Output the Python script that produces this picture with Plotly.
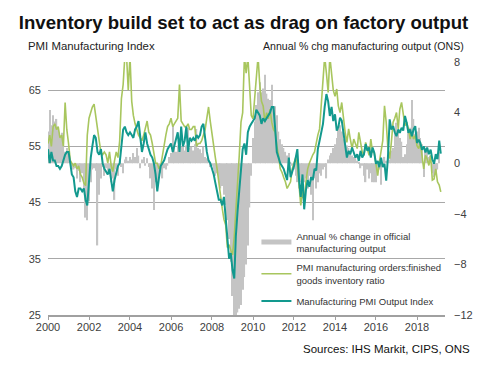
import plotly.graph_objects as go

# ---- data (monthly, Jan 2000 onward) ----
years = list(range(2000, 2020))
tick_years = [2000, 2002, 2004, 2006, 2008, 2010, 2012, 2014, 2016, 2018]

pmi_output = [
    54.5, 52, 54, 52.5, 52.5, 51.5, 51.5, 51, 51.5, 52.5, 53.5, 54,       # 2000
    54, 52, 50, 49.5, 47, 46, 47.5, 47.5, 47, 47.5, 45.5, 44.5,           # 2001
    49.5, 53, 55, 57, 56.5, 54, 53.5, 54.5, 52, 51, 50.5, 50,             # 2002
    51, 49, 47, 49, 50.5, 51.5, 52, 55.5, 58, 58.5, 57.5, 57,             # 2003
    57.5, 57, 56.5, 58, 58.5, 59.5, 57, 54, 55.5, 57.5, 55.5, 54.5,       # 2004
    53.5, 53, 52, 50, 47, 49.5, 51.5, 52, 52.5, 53.5, 54.5, 55,           # 2005
    55.5, 54, 55, 56.5, 57.5, 54, 58.5, 55, 56, 58.5, 54, 56.5,           # 2006
    56, 56.5, 56, 57, 56.5, 57, 58.5, 59, 56, 54, 52.5, 52,               # 2007
    51, 50, 48.5, 47, 45.5, 45.5, 44.5, 46, 42.5, 40, 35, 36,             # 2008
    33, 31.5, 39, 43.5, 47, 51, 54.5, 55.5, 53.5, 57.5, 58.5, 59,         # 2009
    59.5, 60, 61.5, 61, 60.5, 59, 60, 59.5, 60, 60.5, 61, 62,             # 2010
    62, 58, 54, 53, 52, 51.5, 51, 50, 49, 53, 49.5, 50.5,                 # 2011
    51.5, 53, 54.5, 49, 46, 50, 43.8, 47.2, 49, 47.8, 49.5, 49,           # 2012
    51, 50.7, 54.5, 56, 57.8, 59, 62, 64.3, 63, 60.4, 62, 59.5,           # 2013
    60.7, 57.8, 58.4, 60.1, 59.6, 57.2, 54.8, 53, 54.2, 53.6, 54.8, 54,   # 2014
    53, 53.6, 52.4, 54.2, 53, 53.6, 55.4, 54.2, 54.8, 53, 54.8, 53.9,     # 2015
    51.9, 52.4, 51.3, 53, 51.3, 51.9, 48.9, 53, 59.8, 58, 58.6, 57.5,     # 2016
    56.8, 58, 57.4, 58.3, 57.8, 60.4, 59.2, 57.4, 58, 56.8, 58, 58.6,     # 2017
    55.6, 56.2, 55.6, 54.4, 55, 53.9, 54.8, 53.6, 54.4, 52.7, 51.9, 53.6, # 2018
    52.7, 56, 53.7,                                                       # 2019
]

orders_inventory = [
    55.5, 57, 55, 58.5, 59, 58, 58.5, 56.5, 57, 55, 62.8, 58,             # 2000
    55.5, 52.5, 52, 51.5, 52, 51, 51.5, 50, 49.5, 48.5, 48, 57,           # 2001
    60, 61, 62, 62.5, 60, 58.5, 56, 54, 53.5, 54, 53.5, 52,               # 2002
    54, 51.5, 50.5, 52.5, 54, 53, 56, 63.5, 66, 71, 71, 65,               # 2003
    71, 63, 60.5, 59, 58, 57, 56.5, 56, 57, 58.5, 59.5, 57.5,             # 2004
    57, 55.5, 54, 52, 52, 51, 51.5, 53.5, 55, 57, 58.5, 59,               # 2005
    60, 58.5, 59, 59.5, 60, 66, 59.5, 59, 58.5, 58.5, 59, 58,             # 2006
    58, 58.5, 58.5, 55, 55.5, 55.5, 56, 57, 58, 60, 62, 59.5,             # 2007
    57, 55, 53, 51, 48.5, 45.5, 44, 42, 41, 37, 37.5, 36.5,               # 2008
    35.7, 39, 43.3, 47.5, 53.4, 59.3, 61, 71, 68, 71, 66.4, 60.5,         # 2009
    59.9, 64, 68, 71, 66, 63, 62.2, 59.3, 61, 59.9, 61.6, 59.3,           # 2010
    58, 57.5, 55.1, 53.4, 51, 50.4, 49.5, 48.7, 47.5, 48, 48.7, 51,       # 2011
    52.2, 53, 51.6, 47.5, 44.5, 47, 45.1, 48.7, 51, 52, 52.8, 53.5,       # 2012
    54, 55.7, 57, 58.1, 62.2, 66, 71, 68, 64.6, 71, 67.5, 65,             # 2013
    63.9, 65.2, 62.2, 61, 62.8, 59.9, 57.5, 55.7, 58.1, 56.3, 54.6, 56.3, # 2014
    55.5, 54.6, 57.5, 56, 54, 53.4, 55.7, 54.5, 53.4, 56.3, 54, 53.9,     # 2015
    52.2, 49.8, 52.2, 54.6, 56, 62.2, 59.3, 54.6, 52.8, 55.7, 59.3, 60,   # 2016
    61, 58.1, 61.6, 62.8, 60.5, 58.7, 59.3, 58.1, 56.3, 57.5, 56.3, 56.9, # 2017
    55.1, 54.6, 55.7, 53.4, 51, 53.4, 52.8, 51.6, 53.4, 49, 49.2, 51,     # 2018
    48.7, 48.1, 46.9,                                                     # 2019
]

ons_output_yoy = [
    2.5, 4.2, 3, 3.8, 3.3, 3.5, 2.7, 2, 2.4, 1.5, 0.9, 1.2,               # 2000
    0.6, 0.2, -0.3, -0.5, -0.4, -1.2, -0.6, -1.5, -0.8, -2.2, -4.3, -4.5, # 2001
    -3, -1.5, -0.5, -0.4, -0.6, -6.5, -2.5, -1.2, -0.3, -1, -0.4, -0.6,   # 2002
    -0.8, -1.5, -1.2, -2.9, -0.5, -1, 0.4, -0.3, -0.8, 0.3, 0.5, 0.2,     # 2003
    0.5, 0.3, 0.8, 0.5, 1.2, 0.6, -0.4, 0.3, 0.5, -0.2, 0.4, -0.3,        # 2004
    -1.2, -2, -3.7, -1.5, -1.8, -1, -0.8, -1.2, -0.4, -0.5, -0.2, 0.5,    # 2005
    0.8, 3, 1.2, 0.9, 1.4, 1.1, 1.3, 1.5, 1, 1.4, 2.8, 1.2,               # 2006
    1.3, 1, 1.5, 2.7, 1.2, 1.1, 0.8, 1.3, 0.5, 0.4, 0.2, -0.3,            # 2007
    -0.2, -0.5, -1, -0.8, -1.5, -2, -1.8, -2.5, -3.3, -4.5, -6, -7.8,     # 2008
    -10.5, -12, -12.2, -11.8, -11.5, -11.2, -10, -9, -8, -6.5, -3.5, -1,  # 2009
    2, 3.3, 4.6, 5.6, 6.4, 5.6, 5.9, 7, 5.5, 5.1, 5, 6.2,                 # 2010
    4.2, 4.5, 3.8, 2.5, 1.9, 1.5, 1.2, 0.9, 0.6, 0.8, 0.1, -0.2,          # 2011
    -0.5, -1, -1.5, -2, -1.5, -2.5, -1.5, -1.2, -2, -1, -2.5, -4.5,       # 2012
    -1.2, -2, -1.5, -0.8, -1, -0.5, -0.3, -1.2, 0.3, 0.6, 0.8, 1.2,       # 2013
    1.5, 2, 2.7, 3, 2.5, 1.9, 2.4, 1.4, 1.2, 0.9, 0.6, 0.5,               # 2014
    0.4, 0.2, 0.1, -0.4, -0.2, -1, -1.5, -0.5, -1.2, -0.8, -1.5, -1.5,    # 2015
    -1.5, -0.7, -0.5, -1.7, -0.3, 0.5, 0.2, 0.6, 0.3, 1, 1.2, 2.5,        # 2016
    3.2, 2.5, 2, 1.7, 0.5, 0.7, 1.5, 2.5, 2.8, 5, 3.5, 2.3,               # 2017
    2.5, 2.8, 2, 1.5, -1.1, 1.2, 1, 0.5, 0.6, -0.8, -1.1, -0.9,           # 2018
    -0.5, 0.9,                                                            # 2019
]

months = [f"{y}-{m:02d}-01" for y in years for m in range(1, 13)]

left_ticks = [25, 35, 45, 55, 65]
right_ticks = [-12, -8, -4, 0, 4, 8]

names = [
    "Annual % change in official<br>manufacturing output",
    "PMI manufacturing orders:finished<br>goods inventory ratio",
    "Manufacturing PMI Output Index",
]

GRAY = "#c4c4c4"
GREEN = "#a8c65e"
TEAL = "#12998e"

fig = go.Figure()

fig.add_trace(go.Bar(
    x=months[:len(ons_output_yoy)], y=ons_output_yoy, yaxis="y",
    marker=dict(color=GRAY, line=dict(width=0)), showlegend=False,
    name=names[0], legendgroup="g1",
))
# legend entry for the bars drawn as a thick line, like the reference
fig.add_trace(go.Scatter(
    x=[None], y=[None], mode="lines", line=dict(color=GRAY, width=5),
    name=names[0], yaxis="y", legendgroup="g1",
))
fig.add_trace(go.Scatter(
    x=months[:len(orders_inventory)], y=orders_inventory, yaxis="y2",
    mode="lines", line=dict(color=GREEN, width=1.6), name=names[1],
    legendgroup="g2",
))
fig.add_trace(go.Scatter(
    x=months[:len(pmi_output)], y=pmi_output, yaxis="y2",
    mode="lines", line=dict(color=TEAL, width=2), name=names[2],
    legendgroup="g3",
))

FONT = "Liberation Sans, Arial, sans-serif"

fig.update_layout(
    width=497, height=372,
    margin=dict(l=48, r=52, t=62, b=57),
    paper_bgcolor="white", plot_bgcolor="white",
    font=dict(family=FONT, size=11, color="#404040"),
    bargap=0.15,
    title=dict(
        text="<b>Inventory build set to act as drag on factory output</b>",
        x=0.49, xref="container", xanchor="center",
        y=0.94, yref="container", yanchor="middle",
        font=dict(family=FONT, size=18.6, color="#111111"),
    ),
    xaxis=dict(
        type="date", range=["2000-01-01", "2019-05-15"],
        tickvals=[f"{y}-01-01" for y in tick_years],
        ticktext=[str(y) for y in tick_years],
        showgrid=False, zeroline=False,
        showline=True, linecolor="#a0a0a0", linewidth=1.5,
        ticks="outside", ticklen=3, tickcolor="#a0a0a0",
        tickfont=dict(size=11, color="#404040"), ticklabelstandoff=-2,
    ),
    yaxis=dict(
        side="right", range=[-12, 8], tickvals=right_ticks,
        showgrid=False, zeroline=False, showline=False, ticks="",
        tickfont=dict(size=11, color="#404040"), ticklabelstandoff=8,
    ),
    yaxis2=dict(
        side="left", overlaying="y", range=[25, 70], tickvals=left_ticks,
        showgrid=True, gridcolor="#a8a8a8", gridwidth=1,
        zeroline=False, showline=False, ticks="",
        tickfont=dict(size=11, color="#404040"), ticklabelstandoff=6,
    ),
    legend=dict(
        x=0.525, y=0.363, xanchor="left", yanchor="top",
        bgcolor="rgba(0,0,0,0)", font=dict(size=9.5, color="#333333"),
        itemwidth=30, tracegroupgap=4,
    ),
    annotations=[
        dict(text="PMI Manufacturing Index", xref="paper", yref="paper",
             x=-0.055, y=1.063, xanchor="left", yanchor="middle",
             showarrow=False, font=dict(size=11.4, color="#222222")),
        dict(text="Annual % chg manufacturing output (ONS)", xref="paper", yref="paper",
             x=1.053, y=1.063, xanchor="right", yanchor="middle",
             showarrow=False, font=dict(size=10.6, color="#222222")),
        dict(text="Sources: IHS Markit, CIPS, ONS", xref="paper", yref="paper",
             x=1.068, y=-0.134, xanchor="right", yanchor="middle",
             showarrow=False, font=dict(size=11.5, color="#111111")),
    ],
)

fig.write_html(
    "out.html",
    config={"displayModeBar": False},
    post_script="document.body.style.margin='0';",
)
